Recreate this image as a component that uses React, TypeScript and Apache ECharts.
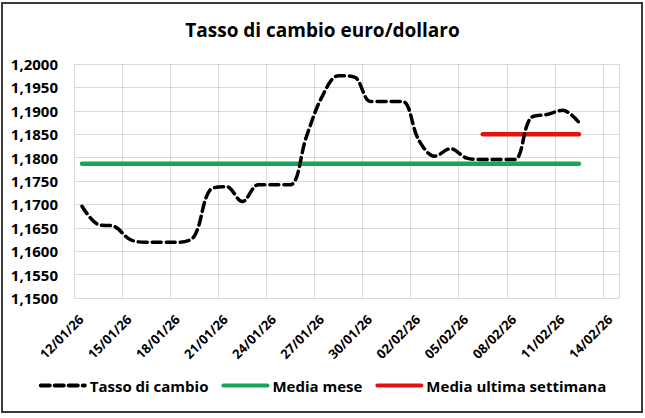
import React, { useEffect, useRef } from "react";
import * as echarts from "echarts";

const title = "Tasso di cambio euro/dollaro";
const dates = [
  "12/01/26", "13/01/26", "14/01/26", "15/01/26", "16/01/26", "17/01/26", "18/01/26",
  "19/01/26", "20/01/26", "21/01/26", "22/01/26", "23/01/26", "24/01/26", "25/01/26",
  "26/01/26", "27/01/26", "28/01/26", "29/01/26", "30/01/26", "31/01/26", "01/02/26",
  "02/02/26", "03/02/26", "04/02/26", "05/02/26", "06/02/26", "07/02/26", "08/02/26",
  "09/02/26", "10/02/26", "11/02/26", "12/02/26",
];
const tassoDiCambio = [
  1.1696, 1.1657, 1.1653, 1.1625, 1.1619, 1.1619, 1.1619,
  1.1632, 1.1731, 1.1738, 1.1706, 1.1742, 1.1742, 1.1742,
  1.1845, 1.1932, 1.1975, 1.1972, 1.1920, 1.1920, 1.1920,
  1.1838, 1.1803, 1.1819, 1.1799, 1.1796, 1.1796, 1.1796,
  1.1885, 1.1892, 1.1901, 1.1875,
];
const mediaMese = 1.1787;
const mediaMeseDa = "12/01/26";
const mediaUltimaSettimana = 1.185;
const mediaSettimanaDa = "06/02/26";
const mediaFinoA = "12/02/26";
const tickLabels = [
  "12/01/26", "15/01/26", "18/01/26", "21/01/26", "24/01/26", "27/01/26",
  "30/01/26", "02/02/26", "05/02/26", "08/02/26", "11/02/26", "14/02/26",
];
const yMin = 1.15;
const yMax = 1.2;
const yStep = 0.005;
const seriesNames = ["Tasso di cambio", "Media mese", "Media ultima settimana"];

const FONT = "'Open Sans', sans-serif";

export default function App() {
  const ref = useRef<HTMLDivElement>(null);
  useEffect(() => {
    if (!ref.current) return;
    const chart = echarts.init(ref.current, undefined, { renderer: "svg" });
    const dayPos = (d: string) => dates.indexOf(d) + 0.5;
    const tickStep = 3;
    const axisMax = tickLabels.length * tickStep - tickStep + 1;
    const xLabel = {
      rotate: 45,
      margin: 19,
      showMaxLabel: false,
      fontFamily: FONT,
      fontSize: 13,
      fontWeight: "bold",
      color: "#000",
      formatter: (v: number) => tickLabels[Math.round(v / tickStep)] ?? "",
    };
    chart.setOption({
      animation: false,
      backgroundColor: "#ffffff",
      title: {
        text: title,
        left: "center",
        top: 15,
        textStyle: { fontFamily: FONT, fontSize: 19, fontWeight: "bold", color: "#000" },
      },
      grid: [
        { left: 74, right: 26, top: 64, bottom: 120, containLabel: false },
        { left: 81, right: 19, top: 64, bottom: 120, containLabel: false },
      ],
      legend: {
        top: 373,
        left: "center",
        itemWidth: 44,
        itemHeight: 12,
        itemGap: 13,
        itemStyle: { opacity: 0 },
        lineStyle: { width: 4 },
        data: seriesNames,
        textStyle: { fontFamily: FONT, fontSize: 15, fontWeight: "bold", color: "#000" },
      },
      xAxis: [
        {
          type: "value",
          min: 0,
          max: axisMax,
          interval: tickStep,
          axisLine: { show: false },
          axisTick: { show: false },
          splitLine: { show: true, lineStyle: { color: "#d9d9d9", width: 1 } },
          axisLabel: { show: false },
        },
        {
          type: "value",
          gridIndex: 1,
          min: 0,
          max: axisMax,
          interval: tickStep,
          axisLine: { show: false },
          axisTick: { show: false },
          splitLine: { show: false },
          axisLabel: xLabel,
        },
      ],
      yAxis: [
        {
          type: "value",
          min: yMin,
          max: yMax,
          interval: yStep,
          axisLine: { show: false },
          axisTick: { show: false },
          splitLine: { lineStyle: { color: "#d9d9d9", width: 1 } },
          axisLabel: {
            margin: 16,
            fontFamily: FONT,
            fontSize: 15,
            fontWeight: "bold",
            color: "#000",
            formatter: (v: number) => v.toFixed(4).replace(".", ","),
          },
        },
        {
          type: "value",
          gridIndex: 1,
          min: yMin,
          max: yMax,
          show: false,
          splitLine: { show: false },
        },
      ],
      series: [
        {
          name: seriesNames[0],
          type: "line",
          smooth: 0.35,
          symbol: "none",
          color: "#000",
          lineStyle: { color: "#000", width: 3.5, type: [9, 5], cap: "round" },
          data: tassoDiCambio.map((v, i) => [dayPos(dates[i]), v]),
          z: 3,
        },
        {
          name: seriesNames[1],
          type: "line",
          symbol: "none",
          color: "#17a558",
          lineStyle: { color: "#17a558", width: 4.5, cap: "round" },
          data: [
            [dayPos(mediaMeseDa), mediaMese],
            [dayPos(mediaFinoA), mediaMese],
          ],
          z: 2,
        },
        {
          name: seriesNames[2],
          type: "line",
          symbol: "none",
          color: "#e3140f",
          lineStyle: { color: "#e3140f", width: 4.5, cap: "round" },
          data: [
            [dayPos(mediaSettimanaDa), mediaUltimaSettimana],
            [dayPos(mediaFinoA), mediaUltimaSettimana],
          ],
          z: 2,
        },
      ],
      graphic: [
        {
          type: "rect",
          shape: { x: 2, y: 3, width: 640, height: 409 },
          style: { fill: "none", stroke: "#3a3a3a", lineWidth: 2 },
          z: 10,
        },
      ],
    });
    return () => chart.dispose();
  }, []);
  return (
    <div
      ref={ref}
      style={{ position: "absolute", left: 0, top: 0, width: 645, height: 418 }}
    />
  );
}
